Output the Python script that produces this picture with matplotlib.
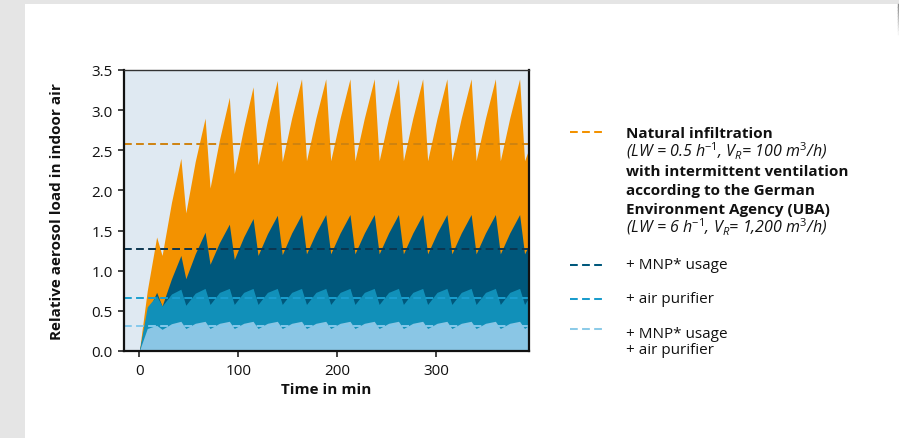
import matplotlib
matplotlib.use("Agg")
import matplotlib.pyplot as plt
from matplotlib.lines import Line2D
from matplotlib.patches import Rectangle

plt.rcParams['font.family'] = ['Open Sans', 'DejaVu Sans']
plt.rcParams['mathtext.fontset'] = 'custom'
plt.rcParams['mathtext.rm'] = 'Open Sans'
plt.rcParams['mathtext.it'] = 'Open Sans:italic'
plt.rcParams['mathtext.default'] = 'it'

# ---------------- data ----------------
time_min = [0, 8, 17.5, 23,
            32.5, 42, 47,
            56.5, 66.5, 71.5,
            81, 91, 96,
            105.5, 115, 120,
            129.5, 139.5, 144.5,
            154, 164, 169,
            178.5, 188.5, 193.5,
            203, 213, 218,
            227.5, 237.5, 242.5,
            252, 262, 267,
            276.5, 286.5, 291.5,
            301, 311, 316,
            325.5, 335.5, 340.5,
            350, 360, 365,
            374.5, 384.5, 389.5,
            394]

natural = [0, 0.75, 1.42, 1.19,
           1.85, 2.40, 1.72,
           2.36, 2.90, 2.03,
           2.63, 3.16, 2.21,
           2.78, 3.29, 2.32,
           2.87, 3.37, 2.36,
           2.90, 3.39, 2.37,
           2.90, 3.39, 2.37,
           2.90, 3.39, 2.37,
           2.90, 3.39, 2.37,
           2.90, 3.39, 2.37,
           2.90, 3.39, 2.37,
           2.90, 3.39, 2.37,
           2.90, 3.39, 2.37,
           2.90, 3.39, 2.37,
           2.90, 3.39, 2.37,
           2.52]

mnp = [0, 0.48, 0.73, 0.56,
       0.90, 1.19, 0.90,
       1.21, 1.48, 1.08,
       1.35, 1.58, 1.14,
       1.42, 1.65, 1.19,
       1.46, 1.69, 1.20,
       1.47, 1.70, 1.21,
       1.47, 1.70, 1.21,
       1.47, 1.70, 1.21,
       1.47, 1.70, 1.21,
       1.47, 1.70, 1.21,
       1.47, 1.70, 1.21,
       1.47, 1.70, 1.21,
       1.47, 1.70, 1.21,
       1.47, 1.70, 1.21,
       1.47, 1.70, 1.21,
       1.32]

purifier = [0, 0.55, 0.69, 0.56,
            0.71, 0.77, 0.57,
            0.72, 0.78, 0.58,
            0.73, 0.78, 0.58,
            0.73, 0.78, 0.58,
            0.73, 0.78, 0.58,
            0.73, 0.78, 0.58,
            0.73, 0.78, 0.58,
            0.73, 0.78, 0.58,
            0.73, 0.78, 0.58,
            0.73, 0.78, 0.58,
            0.73, 0.78, 0.58,
            0.73, 0.78, 0.58,
            0.73, 0.78, 0.58,
            0.73, 0.78, 0.58,
            0.73, 0.78, 0.58,
            0.67]

mnp_purifier = [0, 0.28, 0.32, 0.27,
                0.34, 0.37, 0.28,
                0.345, 0.37, 0.28,
                0.345, 0.37, 0.28,
                0.345, 0.37, 0.28,
                0.345, 0.37, 0.28,
                0.345, 0.37, 0.28,
                0.345, 0.37, 0.28,
                0.345, 0.37, 0.28,
                0.345, 0.37, 0.28,
                0.345, 0.37, 0.28,
                0.345, 0.37, 0.28,
                0.345, 0.37, 0.28,
                0.345, 0.37, 0.28,
                0.345, 0.37, 0.28,
                0.345, 0.37, 0.28,
                0.32]

mean_levels = [2.58, 1.27, 0.66, 0.31]

x_ticks = [0, 100, 200, 300]
y_ticks = [0.0, 0.5, 1.0, 1.5, 2.0, 2.5, 3.0, 3.5]

fill_colors = ['#f39200', '#00587c', '#1190b9', '#8ac6e5']
dash_colors = ['#cf8310', '#0c3650', '#1a9fd0', '#84c9ec']
legend_colors = ['#f39200', '#00587c', '#1a9ccc', '#8ccbe8']

# ---------------- figure ----------------
W, H = 899, 439
fig = plt.figure(figsize=(W / 100, H / 100), dpi=100)
fig.patch.set_facecolor('white')

# grey page frame
fig.patches.append(Rectangle((0, 0), 25 / W, 1, transform=fig.transFigure,
                             facecolor='#e5e5e5', edgecolor='none', zorder=-5))
fig.patches.append(Rectangle((0, 1 - 5 / H), 1, 5 / H, transform=fig.transFigure,
                             facecolor='#e5e5e5', edgecolor='none', zorder=-5))
for i in range(10):
    y0 = 5 + i * 3
    g = 0.55 + i * 0.045
    fig.add_artist(Line2D([898 / W, 898 / W], [1 - y0 / H, 1 - (y0 + 3) / H],
                          color=(g, g, g), lw=1.0, transform=fig.transFigure))

ax_l, ax_r, ax_t, ax_b = 124, 528.7, 71, 352
ax = fig.add_axes([ax_l / W, 1 - ax_b / H, (ax_r - ax_l) / W, (ax_b - ax_t) / H])
ax.set_facecolor('#dfe9f2')

series = [natural, mnp, purifier, mnp_purifier]
for vals, col in zip(series, fill_colors):
    ax.fill_between(time_min, 0, vals, color=col, lw=0, zorder=2)

for lvl, col in zip(mean_levels, dash_colors):
    ax.axhline(lvl, color=col, lw=1.4, dashes=(4.0, 2.2), zorder=3)

ax.set_xlim(-15.5, 393.7)
ax.set_ylim(0, 3.5)
ax.set_xticks(x_ticks)
ax.set_yticks(y_ticks)
ax.set_yticklabels([f'{v:.1f}' for v in y_ticks])
ax.tick_params(axis='both', labelsize=11, length=4, width=1.1, colors='#111111',
               direction='out')
ax.tick_params(axis='y', pad=4)
ax.tick_params(axis='x', pad=5)
for s in ['left', 'bottom', 'right']:
    ax.spines[s].set_linewidth(1.6)
    ax.spines[s].set_color('#111111')
ax.spines['top'].set_linewidth(1.0)
ax.spines['top'].set_color('#333333')
for s in ax.spines.values():
    s.set_zorder(5)

fig.text(57 / W, 1 - 211.5 / H, 'Relative aerosol load in indoor air', rotation=90,
         ha='center', va='center', fontsize=11, fontweight='bold', color='#111111')
fig.text(326.4 / W, 1 - 390 / H, 'Time in min', ha='center', va='center',
         fontsize=11, fontweight='bold', color='#111111')

# ---------------- legend ----------------
def dash(y, col):
    fig.add_artist(Line2D([570 / W, 602 / W], [1 - y / H, 1 - y / H], color=col,
                          lw=1.45, dashes=(3.85, 2.15), transform=fig.transFigure,
                          solid_capstyle='butt', dash_capstyle='butt'))

tx = 626.5 / W
def line(y, s, size=11, **kw):
    fig.text(tx, 1 - y / H, s, ha='left', va='baseline', fontsize=size,
             color='#111111', **kw)

dash(133.3, legend_colors[0])
line(138.3, 'Natural infiltration', fontweight='bold')
line(157, r'(LW = 0.5 h$^{-1}$, V$_{R}$= 100 m$^{3}$/h)', size=11.5, style='italic')
line(175.7, 'with intermittent ventilation', fontweight='bold')
line(195, 'according to the German', fontweight='bold')
line(214.5, 'Environment Agency (UBA)', fontweight='bold')
line(233.5, r'(LW = 6 h$^{-1}$, V$_{R}$= 1,200 m$^{3}$/h)', size=11.5, style='italic')

dash(266, legend_colors[1])
line(269.3, '+ MNP* usage')
dash(300, legend_colors[2])
line(302.7, '+ air purifier')
dash(330, legend_colors[3])
line(337.7, '+ MNP* usage')
line(354.3, '+ air purifier')

fig.savefig('out.png', dpi=100)
